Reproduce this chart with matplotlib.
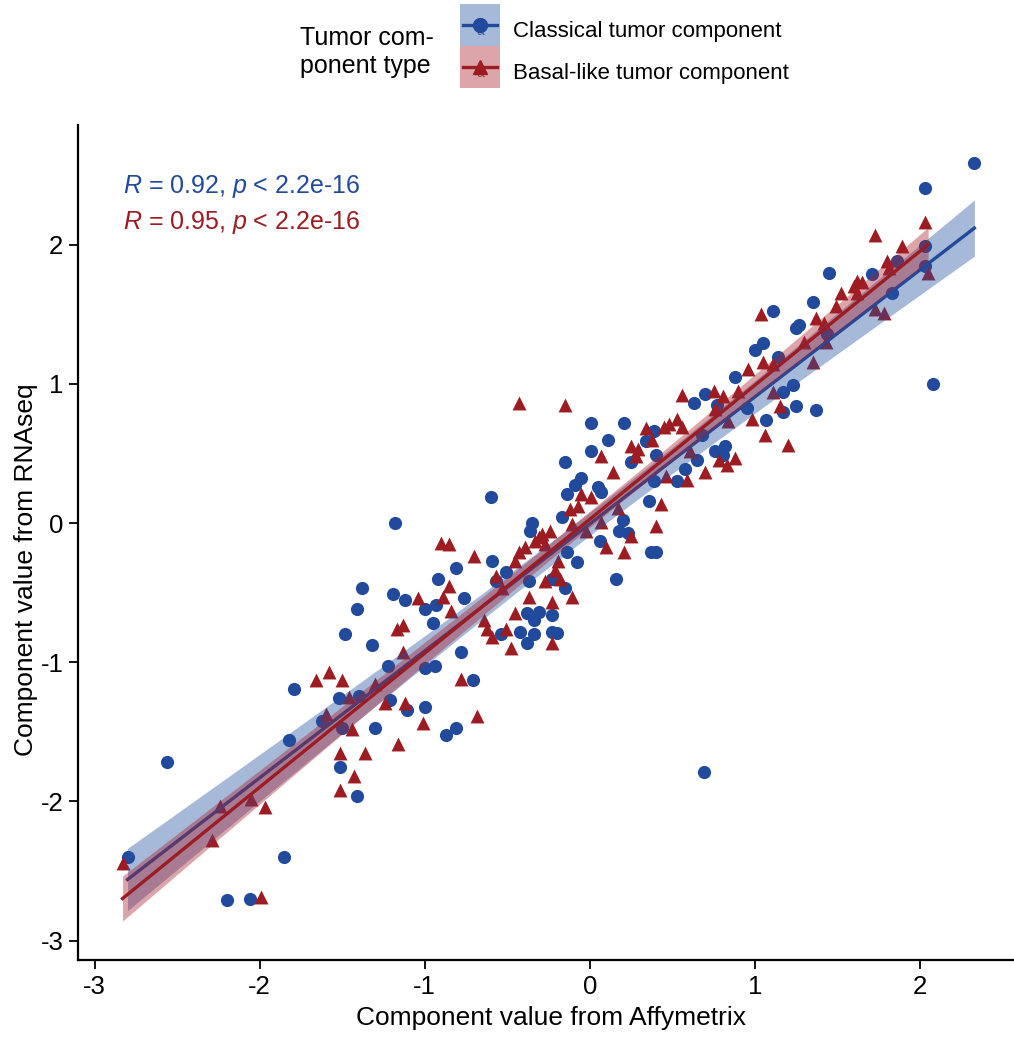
import numpy as np
import matplotlib
matplotlib.use('Agg')
import matplotlib.pyplot as plt
from matplotlib.patches import Rectangle
from matplotlib.lines import Line2D

plt.rcParams['font.family'] = ['Liberation Sans', 'DejaVu Sans']
plt.rcParams['mathtext.fontset'] = 'custom'
plt.rcParams['mathtext.it'] = 'Liberation Sans:italic'
plt.rcParams['mathtext.rm'] = 'Liberation Sans'
plt.rcParams['axes.unicode_minus'] = False

# classical tumor component (x: Affymetrix, y: RNAseq)
classical_x = [-2.80, -2.56, -2.20, -2.06, -1.85, -1.79, -1.82, -1.38, -1.19, -1.41,
               -1.48, -1.32, -1.22, -1.52, -1.40, -1.21, -1.62, -1.50, -1.30, -1.51,
               -1.41, -1.00, -0.94, -0.71, -1.11, -1.00, -0.87, -0.81, -0.78, 0.01,
               0.21, 0.11, 0.01, -0.15, -0.05, -0.09, -0.14, 0.05, -0.60, -1.18,
               -0.35, -0.36, -0.17, 0.20, 0.18, 0.23, 0.06, -0.08, -0.14, 0.16,
               -0.59, -0.81, -0.92, -1.12, -0.93, -1.00, -0.76, -0.95, -0.51, -0.57,
               -0.37, -0.23, -0.15, -0.38, -0.31, -0.34, -0.23, -0.42, -0.34, -0.38,
               -0.23, -0.20, -0.54, 0.07, 0.25, 1.05, 1.00, 1.14, 0.88, 1.23,
               1.17, 1.25, 1.37, 1.17, 1.07, 0.70, 0.63, 0.95, 0.77, 0.39,
               0.34, 0.40, 0.65, 0.76, 0.82, 0.81, 0.58, 0.39, 0.53, 0.68,
               0.36, 0.37, 0.40, 2.33, 2.03, 2.03, 2.03, 1.86, 1.71, 1.45,
               1.83, 1.35, 1.27, 2.08, 1.44, 1.11, 1.25, 0.69]
classical_y = [-2.40, -1.72, -2.71, -2.70, -2.40, -1.19, -1.56, -0.47, -0.51, -0.62,
               -0.80, -0.88, -1.03, -1.26, -1.24, -1.27, -1.42, -1.47, -1.47, -1.75,
               -1.96, -1.04, -1.03, -1.13, -1.34, -1.32, -1.52, -1.47, -0.93, 0.72,
               0.72, 0.60, 0.52, 0.44, 0.32, 0.27, 0.21, 0.26, 0.19, 0.00,
               0.00, -0.06, 0.04, 0.02, -0.06, -0.07, -0.13, -0.28, -0.21, -0.40,
               -0.27, -0.32, -0.40, -0.55, -0.59, -0.62, -0.54, -0.72, -0.35, -0.42,
               -0.42, -0.40, -0.47, -0.65, -0.64, -0.70, -0.66, -0.78, -0.80, -0.86,
               -0.78, -0.79, -0.80, 0.22, 0.44, 1.29, 1.24, 1.19, 1.05, 0.99,
               0.94, 0.84, 0.81, 0.80, 0.74, 0.93, 0.86, 0.83, 0.85, 0.66,
               0.59, 0.49, 0.45, 0.52, 0.55, 0.49, 0.39, 0.30, 0.30, 0.63,
               0.16, -0.21, -0.21, 2.59, 2.41, 1.99, 1.85, 1.88, 1.79, 1.80,
               1.65, 1.59, 1.42, 1.00, 1.36, 1.52, 1.40, -1.79]

# basal-like tumor component
basal_x = [-2.83, -2.29, -2.24, -2.05, -1.97, -1.99, -1.66, -1.58, -1.50, -1.46,
           -1.24, -1.44, -1.51, -1.36, -1.43, -1.51, -1.16, -1.60, -1.30, -1.17,
           -0.78, -1.12, -1.01, -0.68, -0.43, -0.15, -0.90, -0.85, -0.70, -0.85,
           -0.89, -1.04, -0.84, -1.13, -0.64, -0.62, -0.51, -0.59, -0.45, -0.48,
           -0.23, -0.23, -0.37, -0.27, -0.11, -0.18, -0.21, -0.19, -0.45, -0.39,
           -0.43, -0.33, -0.29, -0.24, -0.11, -0.02, -0.12, -0.07, -0.05, 0.01,
           0.07, 0.14, 0.07, 0.25, 0.28, 0.17, 0.25, 0.10, 0.21, -1.13,
           -0.57, -0.53, -0.31, -0.27, 0.96, 1.05, 1.11, 1.35, 1.30, 0.56,
           0.75, 0.81, 0.90, 1.11, 1.15, 0.76, 0.84, 0.98, 1.06, 1.20,
           0.53, 0.56, 0.48, 0.45, 0.34, 0.38, 0.29, 0.61, 0.78, 0.83,
           0.88, 0.70, 0.59, 0.46, 0.43, 0.40, 2.03, 1.73, 1.89, 1.80,
           1.81, 2.05, 1.62, 1.65, 1.60, 1.62, 1.52, 1.49, 1.73, 1.78,
           1.37, 1.42, 1.43, 1.04]
basal_y = [-2.44, -2.28, -2.03, -1.98, -2.04, -2.69, -1.13, -1.07, -1.13, -1.25,
           -1.29, -1.48, -1.65, -1.65, -1.82, -1.92, -1.59, -1.37, -1.16, -0.76,
           -1.12, -1.29, -1.44, -1.39, 0.86, 0.85, -0.14, -0.15, -0.24, -0.45,
           -0.53, -0.54, -0.63, -0.73, -0.70, -0.76, -0.76, -0.82, -0.65, -0.90,
           -0.57, -0.86, -0.53, -0.42, -0.53, -0.40, -0.34, -0.27, -0.27, -0.17,
           -0.21, -0.13, -0.08, -0.06, -0.01, -0.06, 0.10, 0.12, 0.21, 0.19,
           0.01, 0.37, 0.48, 0.55, 0.48, 0.11, -0.09, -0.17, -0.21, -0.93,
           -0.38, -0.47, -0.10, -0.15, 1.11, 1.16, 1.14, 1.16, 1.30, 0.92,
           0.95, 0.91, 0.95, 0.94, 0.84, 0.82, 0.73, 0.75, 0.63, 0.56,
           0.75, 0.69, 0.71, 0.69, 0.68, 0.60, 0.53, 0.52, 0.45, 0.42,
           0.47, 0.37, 0.31, 0.34, 0.14, -0.02, 2.16, 2.07, 1.99, 1.88,
           1.83, 1.80, 1.74, 1.73, 1.70, 1.65, 1.65, 1.56, 1.54, 1.51,
           1.47, 1.44, 1.30, 1.50]

labels = ['Classical tumor component', 'Basal-like tumor component']
cor_labels = ['0.92', '0.95']
colors = ['#224A9C', '#9C1C22']
fills = ['#2450A0', '#A8202A']
markers = ['o', '^']


def fit_band(x, y, t=1.98):
    x = np.asarray(x)
    y = np.asarray(y)
    slope, icpt = np.polyfit(x, y, 1)
    xs = np.linspace(x.min(), x.max(), 80)
    ys = icpt + slope * xs
    res = y - (icpt + slope * x)
    s = np.sqrt(np.sum(res ** 2) / (len(x) - 2))
    se = s * np.sqrt(1 / len(x) + (xs - x.mean()) ** 2 / np.sum((x - x.mean()) ** 2))
    return xs, ys, ys - t * se, ys + t * se


W, H = 1014, 1037
fig = plt.figure(figsize=(W / 100, H / 100), dpi=100)
ax = fig.add_axes([78 / W, 1 - 960 / H, 1 - 78 / W, (960 - 125) / H])

ax.scatter(classical_x, classical_y, s=90, marker='o', color=colors[0], lw=0, zorder=2)
ax.scatter(basal_x, basal_y, s=100, marker='^', color=colors[1], lw=0, zorder=2)

for i, (xx, yy) in enumerate([(classical_x, classical_y), (basal_x, basal_y)]):
    xs, ys, lo, hi = fit_band(xx, yy)
    ax.fill_between(xs, lo, hi, color=fills[i], alpha=0.4, lw=0, zorder=3)
    ax.plot(xs, ys, color=colors[i], lw=2.4, zorder=3)

ax.set_xlim(-3.1, 2.57)
ax.set_ylim(-3.14, 2.86)
ax.set_xticks([-3, -2, -1, 0, 1, 2])
ax.set_yticks([-3, -2, -1, 0, 1, 2])
for sp in ['top', 'right']:
    ax.spines[sp].set_visible(False)
for sp in ['left', 'bottom']:
    ax.spines[sp].set_linewidth(1.6)
ax.tick_params(length=6.5, width=1.3, labelsize=18.5, pad=4)
ax.set_xlabel('Component value from Affymetrix', fontsize=19)
ax.set_ylabel('Component value from RNAseq', fontsize=19)
ax.xaxis.set_label_coords((551 - 78) / 936, -(1006 - 960) / 835)
ax.yaxis.set_label_coords((38 - 78) / 936, (960 - 570) / 835)

ax.text(0.048, 0.926, r'$R$ = %s, $p$ < 2.2e-16' % cor_labels[0], color=colors[0], fontsize=18,
        transform=ax.transAxes, va='center')
ax.text(0.048, 0.883, r'$R$ = %s, $p$ < 2.2e-16' % cor_labels[1], color=colors[1], fontsize=18,
        transform=ax.transAxes, va='center')

# legend drawn by hand (ggplot-style keys)
key_top = [4, 46]
key_h = 42
for i in range(2):
    y0 = 1 - (key_top[i] + key_h) / H
    yc = 1 - (key_top[i] + key_h / 2) / H
    fig.patches.append(Rectangle((460 / W, y0), 40 / W, key_h / H, transform=fig.transFigure,
                                 facecolor=fills[i], alpha=0.4, lw=0))
    fig.lines.append(Line2D([463 / W, 497 / W], [yc, yc], transform=fig.transFigure,
                            color=colors[i], lw=2.4))
    fig.lines.append(Line2D([480 / W], [yc], transform=fig.transFigure, color=colors[i],
                            marker=markers[i], markersize=10, lw=0))
    fig.text(480 / W, yc - 6 / H, 'a', color=colors[i], fontsize=10, ha='center', va='center', alpha=0.8)
    fig.text(513 / W, 1 - (key_top[i] + 27) / H, labels[i], fontsize=16, va='center', ha='left')
fig.text(300 / W, 1 - 52 / H, 'Tumor com-\nponent type', fontsize=18, va='center', ha='left',
         linespacing=1.25)

fig.savefig('out.png', dpi=100)
